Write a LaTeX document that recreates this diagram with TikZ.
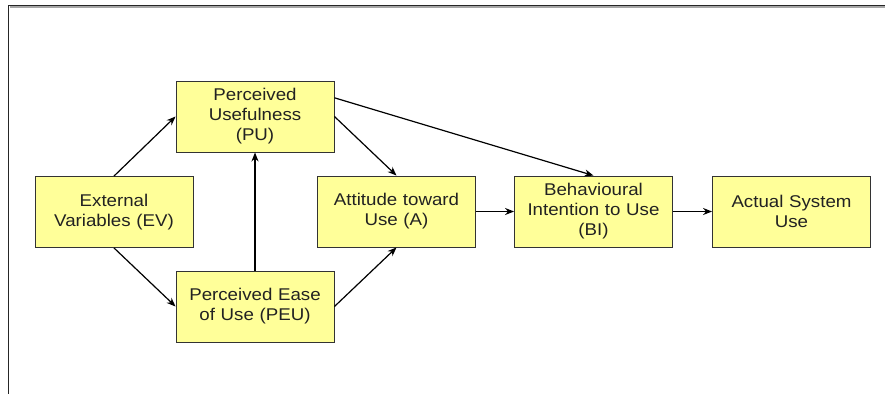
\documentclass[tikz,border=0pt]{standalone}
\usepackage{fontspec}
\setmainfont{Liberation Sans}[FakeStretch=1.1]
\usetikzlibrary{arrows.meta,calc}
\definecolor{boxfill}{HTML}{FFFF99}
\definecolor{boxline}{HTML}{333333}
\definecolor{txt}{HTML}{222222}
\begin{document}
\begin{tikzpicture}[x=1pt,y=-1pt,
  tambox/.style={draw=boxline,fill=boxfill,line width=0.9pt,minimum width=158pt,minimum height=71pt,
    inner sep=0pt,align=center,text width=154pt,text=txt,
    font=\fontsize{17pt}{20pt}\selectfont},
  conn/.style={draw=black,line width=1.2pt,-{Stealth[length=9pt,width=7pt]}}]
\useasboundingbox (0,0) rectangle (885,394);
\fill[white] (0,0) rectangle (885,394);
% frame
\coordinate (ftl) at (8.5,5.5);
\coordinate (ftr) at (885,5.5);
\coordinate (fbl) at (8.5,394);
\draw[gray!70,line width=1.4pt] ($(ftl)+(1,1.6)$) -- ($(ftr)+(0,1.6)$);
\draw[black!85,line width=1.6pt] (ftr) -- (ftl) -- (fbl);
% boxes
\node[tambox] (EV) at (114,212) {External\\Variables (EV)};
\node[tambox] (PU) at (255,116.5) {Perceived\\Usefulness\\(PU)};
\node[tambox] (PEU) at (255,306.5) {Perceived Ease\\of Use (PEU)};
\node[tambox] (A) at (396.5,211.5) {Attitude toward\\Use (A)};
\node[tambox] (BI) at (593.5,211.5) {Behavioural\\Intention to Use\\(BI)};
\node[tambox] (ASU) at (791.5,211.5) {Actual System\\Use};
% connectors
\draw[conn] (EV.north) -- (PU.west);
\draw[conn] (EV.south) -- (PEU.west);
\draw[conn] (PEU.north) -- (PU.south);
\draw[conn] (PU.east) -- (A.north);
\draw[conn] (PEU.east) -- (A.south);
\draw[conn] ($(PU.north east)!0.24!(PU.south east)$) -- (BI.north);
\draw[conn] (A.east) -- (BI.west);
\draw[conn] (BI.east) -- (ASU.west);
\end{tikzpicture}
\end{document}
